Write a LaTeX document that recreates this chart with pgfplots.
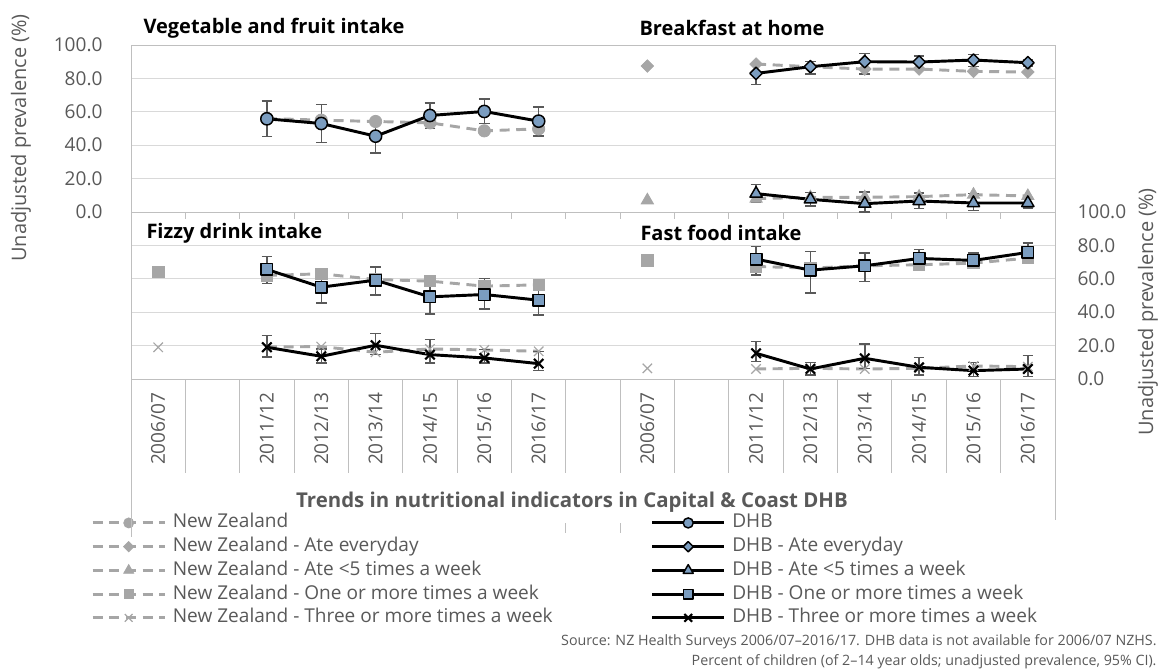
\documentclass[border=0pt]{standalone}
\usepackage{fontspec}
\setmainfont{Open Sans}
\usepackage{pgfplots}
\pgfplotsset{compat=1.18}
\usepackage{pgfplotstable}

\definecolor{dhbblue}{HTML}{7B9DC0}
\definecolor{nzgray}{HTML}{A6A6A6}
\definecolor{gridgray}{HTML}{D9D9D9}
\definecolor{axgray}{HTML}{BFBFBF}
\definecolor{errgray}{HTML}{595959}
\definecolor{textgray}{HTML}{595959}

\newcommand{\fs}{\fontsize{14.3}{17}\selectfont}
\newcommand{\fa}{\fontsize{15}{18}\selectfont}
\newcommand{\fb}{\fontsize{15}{18}\selectfont\bfseries}

% top panels are shifted up by 100 on a 0--200 axis
\pgfplotstableread{
x y
2 56.0
3 55.0
4 54.2
5 53.4
6 48.6
7 49.8
}\nzveg
\pgfplotstableread{
x y ep em
2 55.8 10.6 10.6
3 53.0 11.4 11.4
4 45.4 10.0 10.0
5 57.8 7.4 7.8
6 60.2 7.4 7.2
7 54.4 8.4 9.0
}\dhbveg
\pgfplotstableread{
x y
9 87.4
10 nan
11 88.6
12 87.0
13 85.6
14 85.6
15 84.2
16 83.8
}\nzeveryday
\pgfplotstableread{
x y ep em
11 83.0 5.0 6.6
12 87.0 3.0 4.4
13 90.0 5.0 7.4
14 89.8 3.6 3.8
15 91.0 3.4 4.0
16 89.4 2.0 2.0
}\dhbeveryday
\pgfplotstableread{
x y
9 7.0
10 nan
11 8.0
12 8.8
13 8.8
14 9.2
15 10.4
16 9.6
}\nzlessfive
\pgfplotstableread{
x y ep em
11 11.0 5.4 5.0
12 7.6 4.2 4.0
13 5.0 7.0 5.0
14 6.6 4.8 4.6
15 5.4 5.6 4.4
16 5.4 3.0 3.0
}\dhblessfive
\pgfplotstableread{
x y
0 64.0
1 nan
2 62.0
3 63.0
4 59.6
5 58.6
6 55.6
7 56.4
}\nzfizzyone
\pgfplotstableread{
x y ep em
2 65.6 7.6 8.4
3 55.0 9.0 9.4
4 59.2 8.0 8.8
5 49.2 9.0 10.4
6 50.6 9.6 8.6
7 47.2 9.0 8.8
}\dhbfizzyone
\pgfplotstableread{
x y
0 19.0
1 nan
2 19.2
3 19.4
4 16.0
5 18.0
6 17.4
7 16.6
}\nzfizzythree
\pgfplotstableread{
x y ep em
2 19.0 7.0 5.8
3 13.6 4.5 4.0
4 20.2 7.0 5.6
5 14.6 9.0 5.0
6 12.6 5.0 3.0
7 9.2 7.4 4.0
}\dhbfizzythree
\pgfplotstableread{
x y
9 71.0
10 nan
11 67.4
12 66.4
13 67.8
14 68.4
15 69.4
16 72.4
}\nzfastone
\pgfplotstableread{
x y ep em
11 71.8 7.6 9.4
12 65.2 11.2 13.6
13 67.8 7.6 9.4
14 72.2 5.2 5.2
15 71.0 4.4 4.6
16 75.8 5.6 4.4
}\dhbfastone
\pgfplotstableread{
x y
9 6.4
10 nan
11 6.0
12 6.4
13 6.0
14 6.4
15 7.8
16 7.4
}\nzfastthree
\pgfplotstableread{
x y ep em
11 15.4 7.0 5.0
12 6.0 4.0 3.5
13 12.4 8.6 6.0
14 7.0 5.8 4.6
15 5.0 5.0 3.6
16 6.0 8.0 4.6
}\dhbfastthree

\pgfplotsset{
  nz/.style={nzgray, line width=2.2pt, dash pattern=on 7.5pt off 5pt,
    mark options={solid, fill=nzgray, draw=nzgray, line width=0.6pt}},
  nzx/.style={nzgray, line width=2.2pt, dash pattern=on 7.5pt off 5pt,
    mark=x, mark size=5pt, mark options={solid, draw=nzgray, line width=0.9pt}},
  nzdia/.style={nz, mark=square*, mark size=3.3pt,
    mark options={solid, fill=nzgray, draw=nzgray, line width=0.6pt, rotate=45}},
  dhb/.style={black, line width=2.2pt, solid, line join=round,
    mark options={solid, fill=dhbblue, draw=black, line width=1.1pt},
    error bars/y dir=both, error bars/y explicit,
    error bars/error bar style={errgray, line width=1.1pt, solid},
    error bars/error mark options={errgray, line width=1.1pt, mark size=4pt, rotate=90}},
  dhbdia/.style={dhb, mark=square*, mark size=3.3pt,
    mark options={solid, fill=dhbblue, draw=black, line width=1.1pt, rotate=45}},
  dhbx/.style={dhb, mark=x, mark size=5pt,
    mark options={solid, draw=black, line width=1.6pt}},
}

\begin{document}
\begin{tikzpicture}
\useasboundingbox (0,0) rectangle (872.25pt,-503.25pt);
\begin{axis}[
  at={(98.25pt,-284.25pt)}, anchor=south west,
  scale only axis, width=693pt, height=250.5pt,
  xmin=-0.5, xmax=16.5, ymin=0, ymax=200,
  clip=false, unbounded coords=jump,
  axis line style={axgray, line width=0.75pt},
  xtick=\empty, ytick={0,20,...,200}, yticklabels={},
  extra y ticks={100}, extra y tick labels={},
  extra y tick style={grid style={axgray, line width=0.75pt}},
  ymajorgrids, grid style={gridgray, line width=0.75pt},
  major tick length=0pt,
  legend columns=2,
  legend cell align=left,
  legend style={at={(-0.0433,-0.4012)}, anchor=north west, draw=none, fill=none,
    inner sep=0pt, font=\fs, text=textgray, column sep=5pt, row sep=3.3pt,
    nodes={inner sep=0pt, text height=11pt, text depth=3.5pt},
    /tikz/every even column/.append style={column sep=73.5pt}},
  legend image code/.code={\draw[mark repeat=2, mark phase=2, #1,
    every mark/.append style={scale=0.82}]
    plot coordinates {(0pt,0pt) (27pt,0pt) (54pt,0pt)};},
]
% vegetable and fruit
\addplot[nz, mark=*, mark size=4.6pt] table[x=x, y expr=\thisrow{y}+100] {\nzveg};
\addlegendentry{New Zealand}
\addplot[dhb, mark=*, mark size=4.6pt] table[x=x, y expr=\thisrow{y}+100, y error plus=ep, y error minus=em] {\dhbveg};
\addlegendentry{DHB}
% breakfast
\addplot[nzdia] table[x=x, y expr=\thisrow{y}+100] {\nzeveryday};
\addlegendentry{New Zealand - Ate everyday}
\addplot[dhbdia] table[x=x, y expr=\thisrow{y}+100, y error plus=ep, y error minus=em] {\dhbeveryday};
\addlegendentry{DHB - Ate everyday}
\addplot[nz, mark=triangle*, mark size=5.3pt] table[x=x, y expr=\thisrow{y}+100] {\nzlessfive};
\addlegendentry{New Zealand - Ate <5 times a week}
\addplot[dhb, mark=triangle*, mark size=5.3pt] table[x=x, y expr=\thisrow{y}+100, y error plus=ep, y error minus=em] {\dhblessfive};
\addlegendentry{DHB - Ate <5 times a week}
% fizzy drinks
\addplot[nz, mark=square*, mark size=4.3pt] table[x=x, y=y] {\nzfizzyone};
\addlegendentry{New Zealand - One or more times a week}
\addplot[dhb, mark=square*, mark size=4.3pt] table[x=x, y=y, y error plus=ep, y error minus=em] {\dhbfizzyone};
\addlegendentry{DHB - One or more times a week}
\addplot[nzx] table[x=x, y=y] {\nzfizzythree};
\addlegendentry{New Zealand - Three or more times a week}
\addplot[dhbx] table[x=x, y=y, y error plus=ep, y error minus=em] {\dhbfizzythree};
\addlegendentry{DHB - Three or more times a week}
% fast food
\addplot[nz, mark=square*, mark size=4.3pt, forget plot] table[x=x, y=y] {\nzfastone};
\addplot[dhb, mark=square*, mark size=4.3pt, forget plot] table[x=x, y=y, y error plus=ep, y error minus=em] {\dhbfastone};
\addplot[nzx, forget plot] table[x=x, y=y] {\nzfastthree};
\addplot[dhbx, forget plot] table[x=x, y=y, y error plus=ep, y error minus=em] {\dhbfastthree};
\end{axis}

\begin{scope}[x=0.75pt, y=-0.75pt, line width=0.75pt]
  % category separators and ticks
  \foreach \k in {0,...,17} \draw[axgray] ({131+54.353*\k},379) -- ({131+54.353*\k},473);
  \foreach \k in {1,...,16} \draw[axgray] ({131+54.353*\k},212) -- ({131+54.353*\k},219);
  \draw[axgray] (131,473) -- (131,537);
  \draw[axgray] (1055,473) -- (1055,520);
  \draw[axgray] (565.8,523) -- (565.8,533);
  \draw[axgray] (620.2,523) -- (620.2,533);
  % category labels
  \foreach \i/\a/\b in {0/2006/07,2/2011/12,3/2012/13,4/2013/14,5/2014/15,6/2015/16,7/2016/17,
                        9/2006/07,11/2011/12,12/2012/13,13/2013/14,14/2014/15,15/2015/16,16/2016/17}
    \node[rotate=90, anchor=east, inner sep=0pt, font=\fs, text=textgray]
      at ({131+54.353*(\i+0.5)},392) {\a/\b};
  % value labels, left (upper panels) and right (lower panels)
  \foreach \v/\t in {0/0.0,20/20.0,40/40.0,60/60.0,80/80.0,100/100.0} {
    \node[anchor=east, inner sep=0pt, font=\fs, text=textgray] at (103,{212-1.67*\v}) {\t};
    \node[anchor=west, inner sep=0pt, font=\fs, text=textgray] at (1077,{379-1.67*\v}) {\t};
  }
  \node[rotate=90, font=\fa, text=textgray, inner sep=0pt] at (21,138) {Unadjusted prevalence (\%)};
  \node[rotate=90, font=\fa, text=textgray, inner sep=0pt] at (1148,312) {Unadjusted prevalence (\%)};
  % panel titles
  \node[anchor=west, inner sep=0pt, font=\fb] at (143,28) {Vegetable and fruit intake};
  \node[anchor=west, inner sep=0pt, font=\fb] at (639,28) {Breakfast at home};
  \node[anchor=west, inner sep=0pt, font=\fb] at (146,233) {Fizzy drink intake};
  \node[anchor=west, inner sep=0pt, font=\fb] at (640,233) {Fast food intake};
  \node[inner sep=0pt, font=\fontsize{15.3}{18}\selectfont\bfseries, text=textgray] at (572,502)
    {Trends in nutritional indicators in Capital \& Coast DHB};
  % source
  \node[anchor=east, inner sep=0pt, font=\fontsize{10.7}{12}\selectfont, text=textgray] at (1157,642)
    {Source: NZ Health Surveys 2006/07–2016/17. DHB data is not available for 2006/07 NZHS.};
  \node[anchor=east, inner sep=0pt, font=\fontsize{10.7}{12}\selectfont, text=textgray] at (1157,662)
    {Percent of children (of 2–14 year olds; unadjusted prevalence, 95\% CI).};
\end{scope}
\end{tikzpicture}
\end{document}
